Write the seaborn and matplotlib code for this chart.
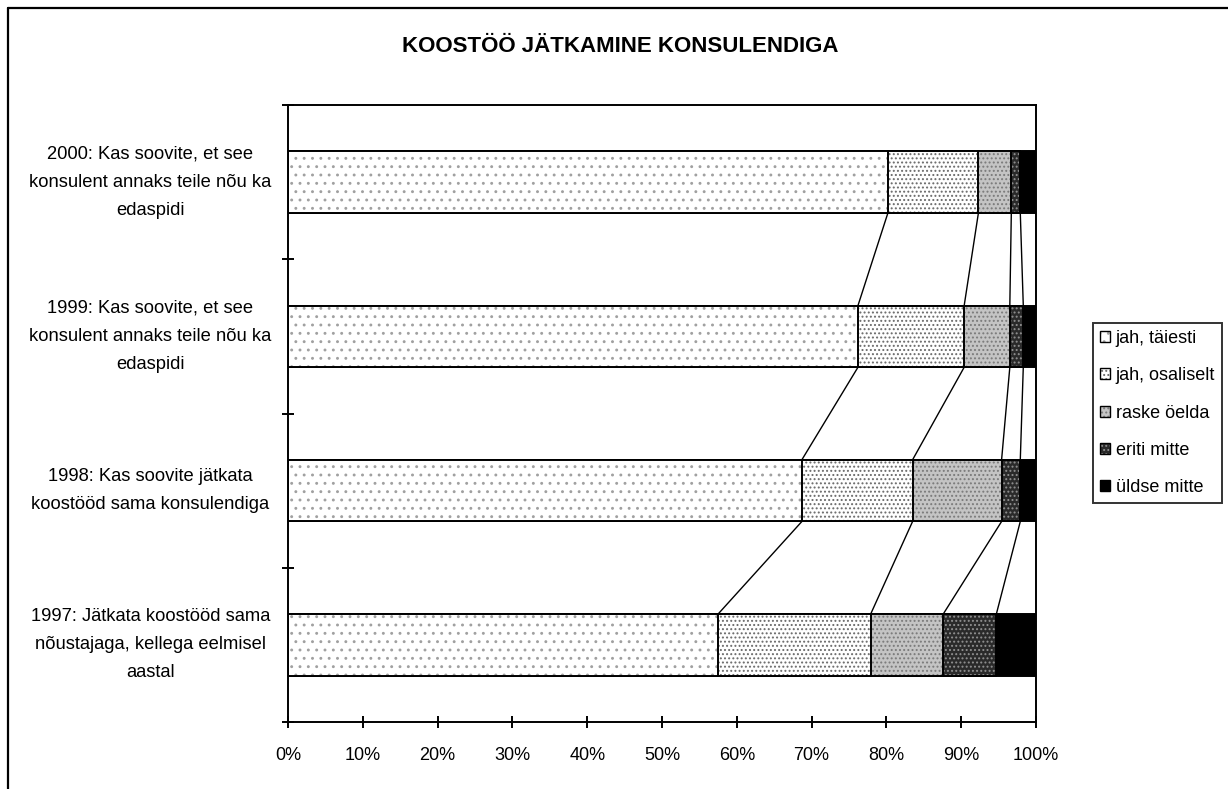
import matplotlib
matplotlib.use("Agg")
import matplotlib.pyplot as plt
from matplotlib.lines import Line2D
from matplotlib.patches import Patch
from matplotlib.legend_handler import HandlerTuple
import seaborn as sns
import numpy as np
import pandas as pd

# ---------------- data ----------------
categories = [
    "2000: Kas soovite, et see\nkonsulent annaks teile nõu ka\nedaspidi",
    "1999: Kas soovite, et see\nkonsulent annaks teile nõu ka\nedaspidi",
    "1998: Kas soovite jätkata\nkoostööd sama konsulendiga",
    "1997: Jätkata koostööd sama\nnõustajaga, kellega eelmisel\naastal",
]
series_names = ["jah, täiesti", "jah, osaliselt", "raske öelda", "eriti mitte", "üldse mitte"]
jah_taiesti = [80.2, 76.2, 68.7, 57.5]
jah_osaliselt = [12.1, 14.2, 14.8, 20.4]
raske_oelda = [4.4, 6.1, 11.9, 9.7]
eriti_mitte = [1.2, 1.8, 2.5, 7.1]
uldse_mitte = [2.1, 1.7, 2.1, 5.3]
x_ticks = [0, 10, 20, 30, 40, 50, 60, 70, 80, 90, 100]
x_tick_labels = [f"{t}%" for t in x_ticks]
title = "KOOSTÖÖ JÄTKAMINE KONSULENDIGA"

# styles: facecolor, hatch, hatch colour
styles = [
    ("#ffffff", "..", "#a0a0a0"),
    ("#ffffff", "....", "#6a6a6a"),
    ("#c4c4c4", "....", "#7a7a7a"),
    ("#2a2a2a", "....", "#909090"),
    ("#000000", "", "#000000"),
]

sns.set_theme(style="white")
plt.rcParams["font.family"] = ["Liberation Sans", "DejaVu Sans"]
plt.rcParams["hatch.linewidth"] = 0.9

W, H = 1228, 789
fig = plt.figure(figsize=(W / 100, H / 100), dpi=100)
ax = fig.add_axes([288 / W, 1 - 722 / H, (1036 - 288) / W, (722 - 105) / H])

vals = np.array([jah_taiesti, jah_osaliselt, raske_oelda, eriti_mitte, uldse_mitte])
cum = np.cumsum(vals, axis=0)

bar_w = 0.4
for k in range(len(series_names) - 1, -1, -1):
    df = pd.DataFrame({"cat": categories, "val": cum[k]})
    fc, hatch, hc = styles[k]
    sns.barplot(data=df, x="val", y="cat", orient="h", color=fc, saturation=1,
                width=bar_w, hatch=hatch, edgecolor=hc, linewidth=0, ax=ax,
                errorbar=None)
    sns.barplot(data=df, x="val", y="cat", orient="h", color="black", fill=False,
                width=bar_w, linewidth=1.4, ax=ax, errorbar=None)

# series lines between bars
for k in range(len(series_names) - 1):
    for i in range(len(categories) - 1):
        ax.plot([cum[k][i], cum[k][i + 1]], [i + bar_w / 2, i + 1 - bar_w / 2],
                color="black", lw=1.0, zorder=5)

ax.set_xlim(0, 100)
ax.set_ylim(len(categories) - 0.5, -0.5)
ax.set_xticks(x_ticks)
ax.set_xticklabels(x_tick_labels, fontsize=13, color="black")
ax.set_yticks(range(len(categories)))
ax.set_yticklabels(categories, fontsize=13.2, color="black", ha="center", va="center",
                   multialignment="center", linespacing=1.85)
ax.set_yticks(np.arange(-0.5, len(categories), 1.0), minor=True)
ax.tick_params(axis="y", which="major", length=0, pad=99)
ax.tick_params(axis="y", which="minor", direction="inout", length=8.5, width=1.4, color="black", left=True)
ax.tick_params(axis="x", which="major", direction="inout", length=8, width=1.4, color="black",
               bottom=True, pad=14)
ax.set_xlabel("")
ax.set_ylabel("")
for sp in ax.spines.values():
    sp.set_visible(True)
    sp.set_color("black")
    sp.set_linewidth(1.4)
ax.grid(False)

fig.text(620 / W, 1 - 47 / H, title, ha="center", va="center", fontsize=16,
         fontweight="bold", color="black")

# legend
handles = []
for k, name in enumerate(series_names):
    fc, hatch, hc = styles[k]
    handles.append((Patch(facecolor=fc, hatch=hatch, edgecolor=hc, linewidth=0),
                    Patch(facecolor="none", edgecolor="black", linewidth=1.0)))
leg = fig.legend(handles, series_names, handler_map={tuple: HandlerTuple(ndivide=1)},
                 loc="center left", bbox_to_anchor=(1093 / W, 1 - 413 / H),
                 fontsize=13, frameon=True, fancybox=False, edgecolor="black",
                 handlelength=0.55, handleheight=0.55, handletextpad=0.3,
                 labelspacing=1.12, borderpad=0.4, borderaxespad=0)
leg.get_frame().set_linewidth(1.4)
for t in leg.get_texts():
    t.set_color("black")

# figure border (left and top visible)
fig.add_artist(Line2D([8 / W, 8 / W], [0, 1 - 8 / H], color="black", lw=1.6,
                      transform=fig.transFigure))
fig.add_artist(Line2D([8 / W, 1], [1 - 8 / H, 1 - 8 / H], color="black", lw=1.6,
                      transform=fig.transFigure))

fig.savefig("out.png", dpi=100)
